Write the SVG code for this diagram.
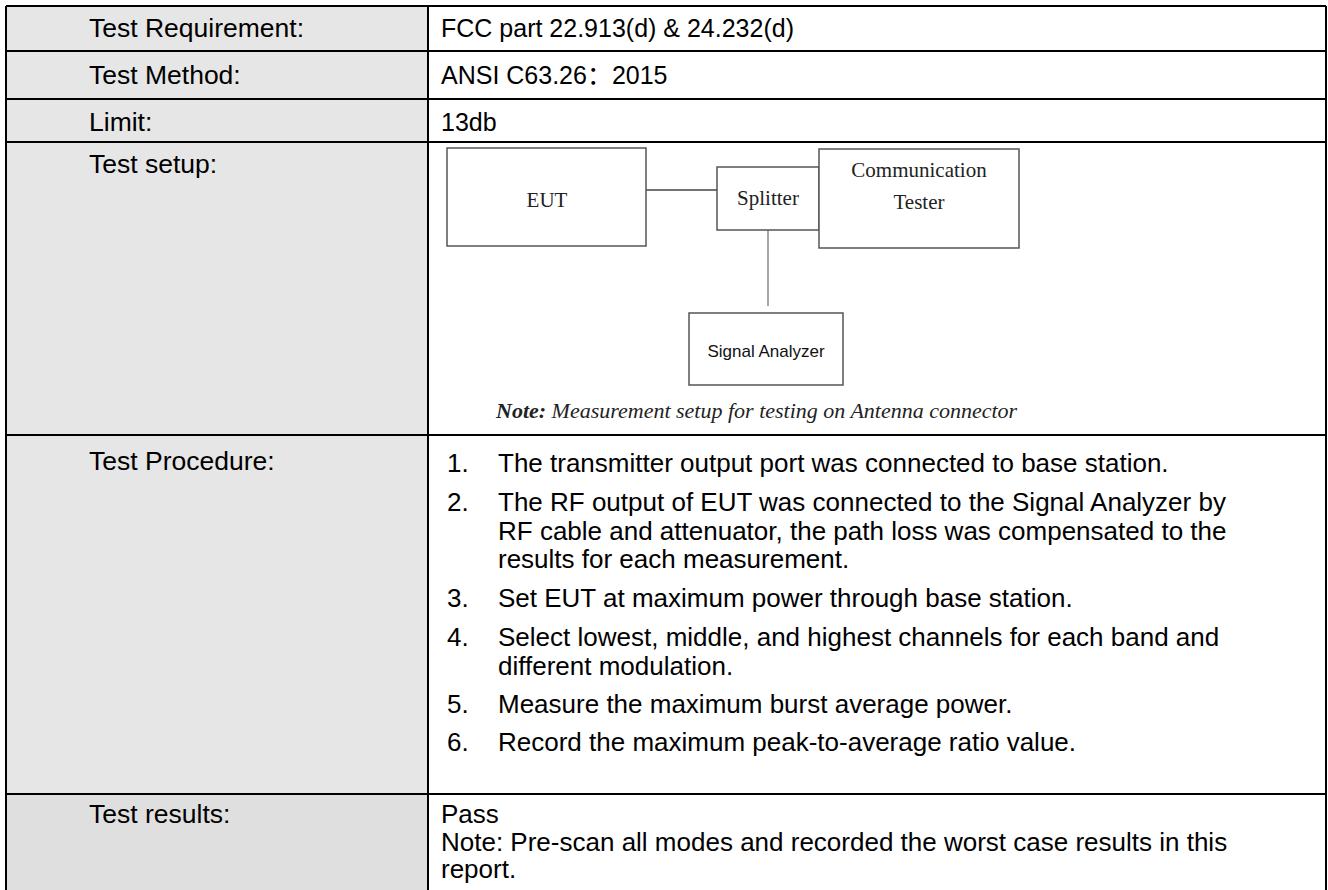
<svg xmlns="http://www.w3.org/2000/svg" width="1328" height="890" viewBox="0 0 1328 890">
<style>
.t{font-family:"Liberation Sans",Arial,sans-serif;font-size:26px;fill:#000}
.v{font-family:"Liberation Sans","Noto Sans CJK SC",Arial,sans-serif;font-size:25px;fill:#000}
.l{font-family:"Liberation Sans",Arial,sans-serif;font-size:26.5px;fill:#000}
.s{font-family:"Liberation Serif","Times New Roman",serif;font-size:21px;fill:#222}
.sa{font-family:"Liberation Sans",Arial,sans-serif;font-size:17px;fill:#111}
.note{font-family:"Liberation Serif","Times New Roman",serif;font-size:22px;font-style:italic;fill:#222}
.grid{stroke:#000;stroke-width:2;fill:none}
.box{fill:#fff;stroke:#555;stroke-width:1.5}
.conn{stroke:#444;stroke-width:1.5;fill:none}
</style>
<rect x="0" y="0" width="1328" height="890" fill="#fff"/>
<g id="table">
<rect x="6" y="6" width="422" height="788" fill="#e6e6e6"/>
<rect x="6" y="794" width="422" height="96" fill="#dfdfdf"/>
<path class="grid" d="M6,6H1326M6,51H1326M6,99H1326M6,142H1326M6,435H1326M6,794H1326M6,6V890M428,6V890M1326,6V890"/>
</g>
<g id="labels">
<text class="l" x="89" y="37">Test Requirement:</text>
<text class="l" x="89" y="84">Test Method:</text>
<text class="l" x="89" y="131">Limit:</text>
<text class="l" x="89" y="173">Test setup:</text>
<text class="l" x="89" y="470">Test Procedure:</text>
<text class="l" x="89" y="823">Test results:</text>
</g>
<g id="values">
<text class="v" x="441" y="37">FCC part 22.913(d) &amp; 24.232(d)</text>
<text class="v" x="441" y="84">ANSI C63.26：2015</text>
<text class="v" x="441" y="131">13db</text>
</g>
<g id="setup">
<g id="connectors">
<line class="conn" x1="646" y1="190" x2="717" y2="190"/>
<line x1="768" y1="230" x2="768" y2="306" stroke="#888" stroke-width="1.5"/>
</g>
<g id="eut"><rect class="box" x="447" y="148" width="199" height="98"/><text class="s" x="547" y="207" text-anchor="middle">EUT</text></g>
<g id="splitter"><rect class="box" x="717" y="167" width="102" height="63"/><text class="s" x="768" y="205" text-anchor="middle">Splitter</text></g>
<g id="tester"><rect class="box" x="819" y="149" width="200" height="99"/><text class="s" x="919" y="177" text-anchor="middle">Communication</text><text class="s" x="919" y="209" text-anchor="middle">Tester</text></g>
<g id="analyzer"><rect class="box" x="689" y="313" width="154" height="72"/><text class="sa" x="766" y="357" text-anchor="middle">Signal Analyzer</text></g>
<text class="note" x="496" y="418"><tspan font-weight="bold">Note:</tspan> Measurement setup for testing on Antenna connector</text>
</g>
<g id="procedure">
<text class="t" x="447" y="472">1.</text><text class="t" x="498" y="472">The transmitter output port was connected to base station.</text>
<text class="t" x="447" y="511">2.</text><text class="t" x="498" y="511">The RF output of EUT was connected to the Signal Analyzer by</text>
<text class="t" x="498" y="540">RF cable and attenuator, the path loss was compensated to the</text>
<text class="t" x="498" y="568">results for each measurement.</text>
<text class="t" x="447" y="607">3.</text><text class="t" x="498" y="607">Set EUT at maximum power through base station.</text>
<text class="t" x="447" y="646">4.</text><text class="t" x="498" y="646">Select lowest, middle, and highest channels for each band and</text>
<text class="t" x="498" y="675">different modulation.</text>
<text class="t" x="447" y="713">5.</text><text class="t" x="498" y="713">Measure the maximum burst average power.</text>
<text class="t" x="447" y="751">6.</text><text class="t" x="498" y="751">Record the maximum peak-to-average ratio value.</text>
</g>
<g id="results">
<text class="t" x="441" y="823">Pass</text>
<text class="t" x="441" y="851">Note: Pre-scan all modes and recorded the worst case results in this</text>
<text class="t" x="441" y="878">report.</text>
</g>
</svg>
